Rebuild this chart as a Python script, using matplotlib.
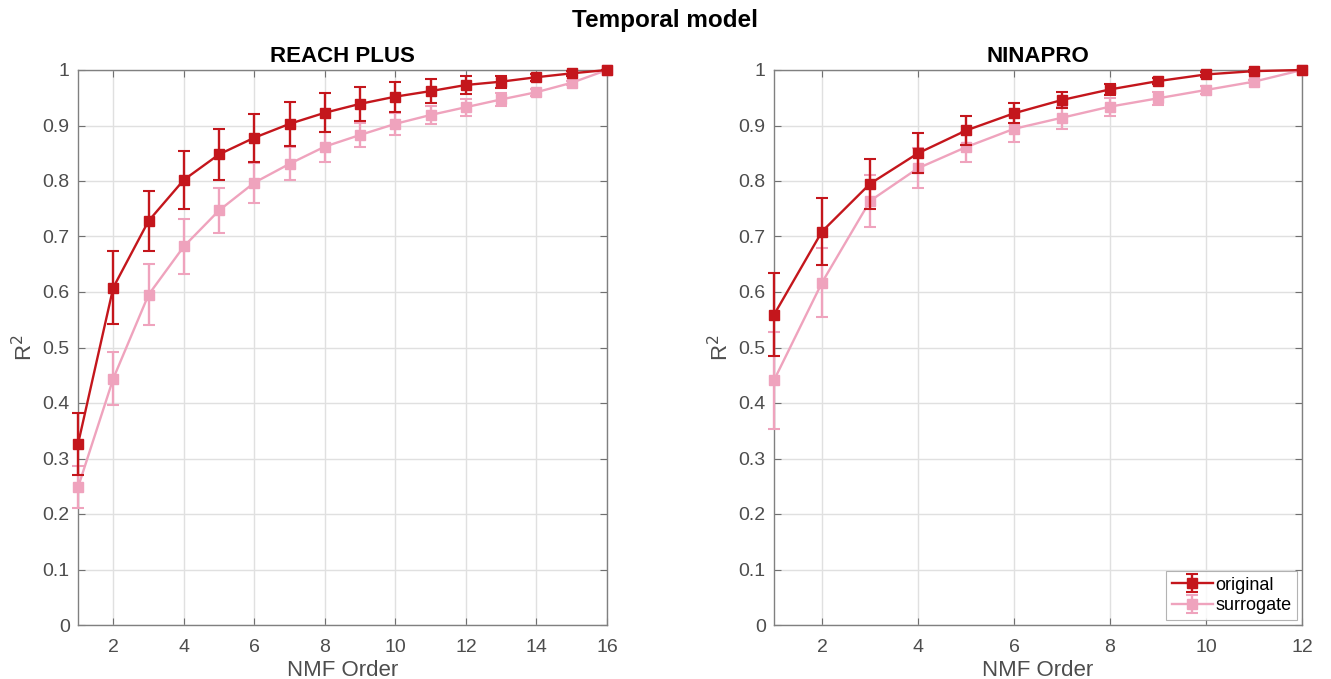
import matplotlib
matplotlib.use("Agg")
import matplotlib.pyplot as plt
import numpy as np

plt.rcParams['font.family'] = ['Liberation Sans', 'DejaVu Sans']

# REACH PLUS
reach_order = list(range(1, 17))
reach_orig = [0.326, 0.608, 0.728, 0.802, 0.848, 0.878, 0.903, 0.923, 0.939, 0.952,
              0.962, 0.973, 0.979, 0.987, 0.994, 1.0]
reach_orig_err = [0.056, 0.066, 0.054, 0.052, 0.046, 0.043, 0.040, 0.035, 0.031, 0.027,
                  0.021, 0.016, 0.011, 0.006, 0.004, 0.0]
reach_surr = [0.248, 0.444, 0.595, 0.682, 0.747, 0.797, 0.831, 0.862, 0.883, 0.903,
              0.919, 0.933, 0.947, 0.960, 0.977, 1.0]
reach_surr_err = [0.038, 0.048, 0.055, 0.050, 0.041, 0.036, 0.030, 0.027, 0.022, 0.020,
                  0.017, 0.015, 0.012, 0.006, 0.004, 0.0]

# NINAPRO
nina_order = list(range(1, 13))
nina_orig = [0.559, 0.709, 0.795, 0.850, 0.891, 0.922, 0.946, 0.965, 0.980, 0.992, 0.998, 1.0]
nina_orig_err = [0.075, 0.060, 0.045, 0.036, 0.026, 0.018, 0.014, 0.010, 0.005, 0.004, 0.002, 0.0]
nina_surr = [0.441, 0.617, 0.764, 0.823, 0.861, 0.894, 0.914, 0.934, 0.949, 0.964, 0.979, 1.0]
nina_surr_err = [0.087, 0.062, 0.047, 0.036, 0.027, 0.023, 0.020, 0.016, 0.012, 0.007, 0.003, 0.0]

c_orig = '#C4161C'
c_surr = '#EFA3BD'
tick_col = '#4D4D4D'

fig = plt.figure(figsize=(13.31, 6.79), dpi=100)
ax1 = fig.add_axes([78/1331, 1-625/679, (607-78)/1331, (625-70)/679])
ax2 = fig.add_axes([774/1331, 1-625/679, (1302-774)/1331, (625-70)/679])

def draw(ax, x, o, oe, s, se, title, xmax, xticks, legend=False):
    for y, e, c, lab, z in [(o, oe, c_orig, 'original', 4), (s, se, c_surr, 'surrogate', 3)]:
        cont = ax.errorbar(x, y, yerr=e, color=c, marker='s', markersize=6.5, lw=1.7,
                           elinewidth=1.7, capsize=4, capthick=1.5, label=lab, zorder=z)
        for art in [cont.lines[0], *cont.lines[1], *cont.lines[2]]:
            art.set_clip_on(False)
    ax.set_xlim(1, xmax)
    ax.set_ylim(0, 1)
    ax.set_xticks(xticks)
    ax.set_yticks(np.arange(0, 1.01, 0.1))
    ax.set_yticklabels(['0', '0.1', '0.2', '0.3', '0.4', '0.5', '0.6', '0.7', '0.8', '0.9', '1'])
    ax.grid(True, color='#E0E0E0', lw=1.0)
    ax.set_axisbelow(True)
    ax.tick_params(direction='in', top=True, right=True, length=5, width=0.8,
                   colors='#707070', labelcolor=tick_col, labelsize=14)
    ax.tick_params(axis='x', pad=10)
    ax.tick_params(axis='y', pad=6)
    for sp in ax.spines.values():
        sp.set_color('#808080')
        sp.set_linewidth(1.0)
    ax.set_title(title, fontsize=16, fontweight='bold', pad=6)
    ax.set_xlabel('NMF Order', fontsize=16, color=tick_col, labelpad=3)
    ax.set_ylabel('R$^2$', fontsize=16, color=tick_col, labelpad=4)
    if legend:
        leg = ax.legend(loc='lower right', fontsize=13, frameon=True, fancybox=False,
                        edgecolor='#A0A0A0', borderpad=0.3, handlelength=2.3,
                        handletextpad=0.1, labelspacing=0.2, borderaxespad=0.3)
        leg.get_frame().set_linewidth(0.8)

draw(ax1, reach_order, reach_orig, reach_orig_err, reach_surr, reach_surr_err,
     'REACH PLUS', 16, [2, 4, 6, 8, 10, 12, 14, 16])
draw(ax2, nina_order, nina_orig, nina_orig_err, nina_surr, nina_surr_err,
     'NINAPRO', 12, [2, 4, 6, 8, 10, 12], legend=True)

fig.suptitle('Temporal model', fontsize=17.5, fontweight='bold', y=1-20/679, va='center')

fig.savefig('out.png', dpi=100)
